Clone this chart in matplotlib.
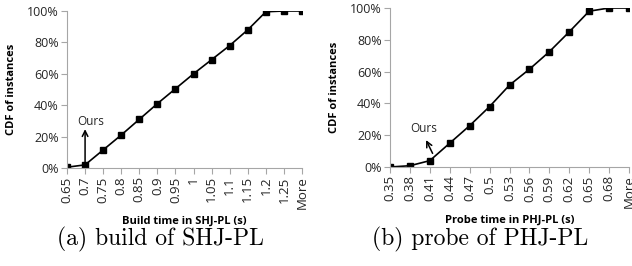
import numpy as np
import matplotlib.pyplot as plt

# left panel: build of SHJ-PL
build_bins = ['0.65', '0.7', '0.75', '0.8', '0.85', '0.9', '0.95', '1',
              '1.05', '1.1', '1.15', '1.2', '1.25', 'More']
build_cdf = [0.5, 2, 11.5, 21, 31, 41, 50.5, 60, 69, 78, 88, 99.5, 100, 100]

# right panel: probe of PHJ-PL
probe_bins = ['0.35', '0.38', '0.41', '0.44', '0.47', '0.5', '0.53', '0.56',
              '0.59', '0.62', '0.65', '0.68', 'More']
probe_cdf = [0, 0.8, 4, 15, 26, 38, 51.5, 61.5, 72.5, 85, 98, 100, 100]

W, H = 632, 266
fig = plt.figure(figsize=(W / 100, H / 100), dpi=100)
tick_font = 'Open Sans'
gray = '#a6a6a6'


def panel(rect, bins, cdf, xlabel, caption, cap_x):
    ax = fig.add_axes(rect)
    x = np.arange(len(bins))
    ax.plot(x, cdf, color='black', lw=1.2, marker='s', ms=4.5)
    ax.set_xlim(0, len(bins) - 1)
    ax.set_ylim(0, 100)
    ax.set_xticks(x)
    ax.set_xticklabels(bins, rotation=90, fontsize=9.5, family=tick_font, color='#262626')
    ax.set_yticks(np.arange(0, 101, 20))
    ax.set_yticklabels([f'{v}%' for v in range(0, 101, 20)], fontsize=9,
                       family=tick_font, color='#262626')
    for s in ['top', 'right']:
        ax.spines[s].set_visible(False)
    for s in ['left', 'bottom']:
        ax.spines[s].set_color(gray)
    ax.tick_params(axis='both', color=gray, length=4, width=0.8, pad=2)
    ax.set_xlabel(xlabel, fontsize=8, fontweight='bold', family=tick_font, labelpad=5)
    ax.set_ylabel('CDF of instances', fontsize=8, fontweight='bold', family=tick_font,
                  labelpad=7)
    fig.text(cap_x, 0.1, caption, ha='center', va='center', fontsize=17,
             family='cmr10')
    return ax


axL = panel([67 / W, 1 - 168 / H, 235 / W, 157 / H], build_bins, build_cdf,
            'Build time in SHJ-PL (s)', '(a) build of SHJ-PL', 160 / W)
axL.annotate('Ours', xy=(1.3, 29.5), ha='center', va='center',
             fontsize=8.5, family=tick_font, color='#262626')
axL.annotate('', xy=(1, 26.5), xytext=(1, 2),
             arrowprops=dict(arrowstyle='->', color='black', lw=1.1))

axR = panel([390 / W, 1 - 167 / H, 239 / W, 159 / H], probe_bins, probe_cdf,
            'Probe time in PHJ-PL (s)', '(b) probe of PHJ-PL', 480 / W)
axR.annotate('Ours', xy=(1.7, 24.5), ha='center', va='center',
             fontsize=8.5, family=tick_font, color='#262626')
axR.annotate('', xy=(1.75, 18.5), xytext=(2.2, 7),
             arrowprops=dict(arrowstyle='->', color='black', lw=1.1))

fig.savefig('out.png', dpi=100)
